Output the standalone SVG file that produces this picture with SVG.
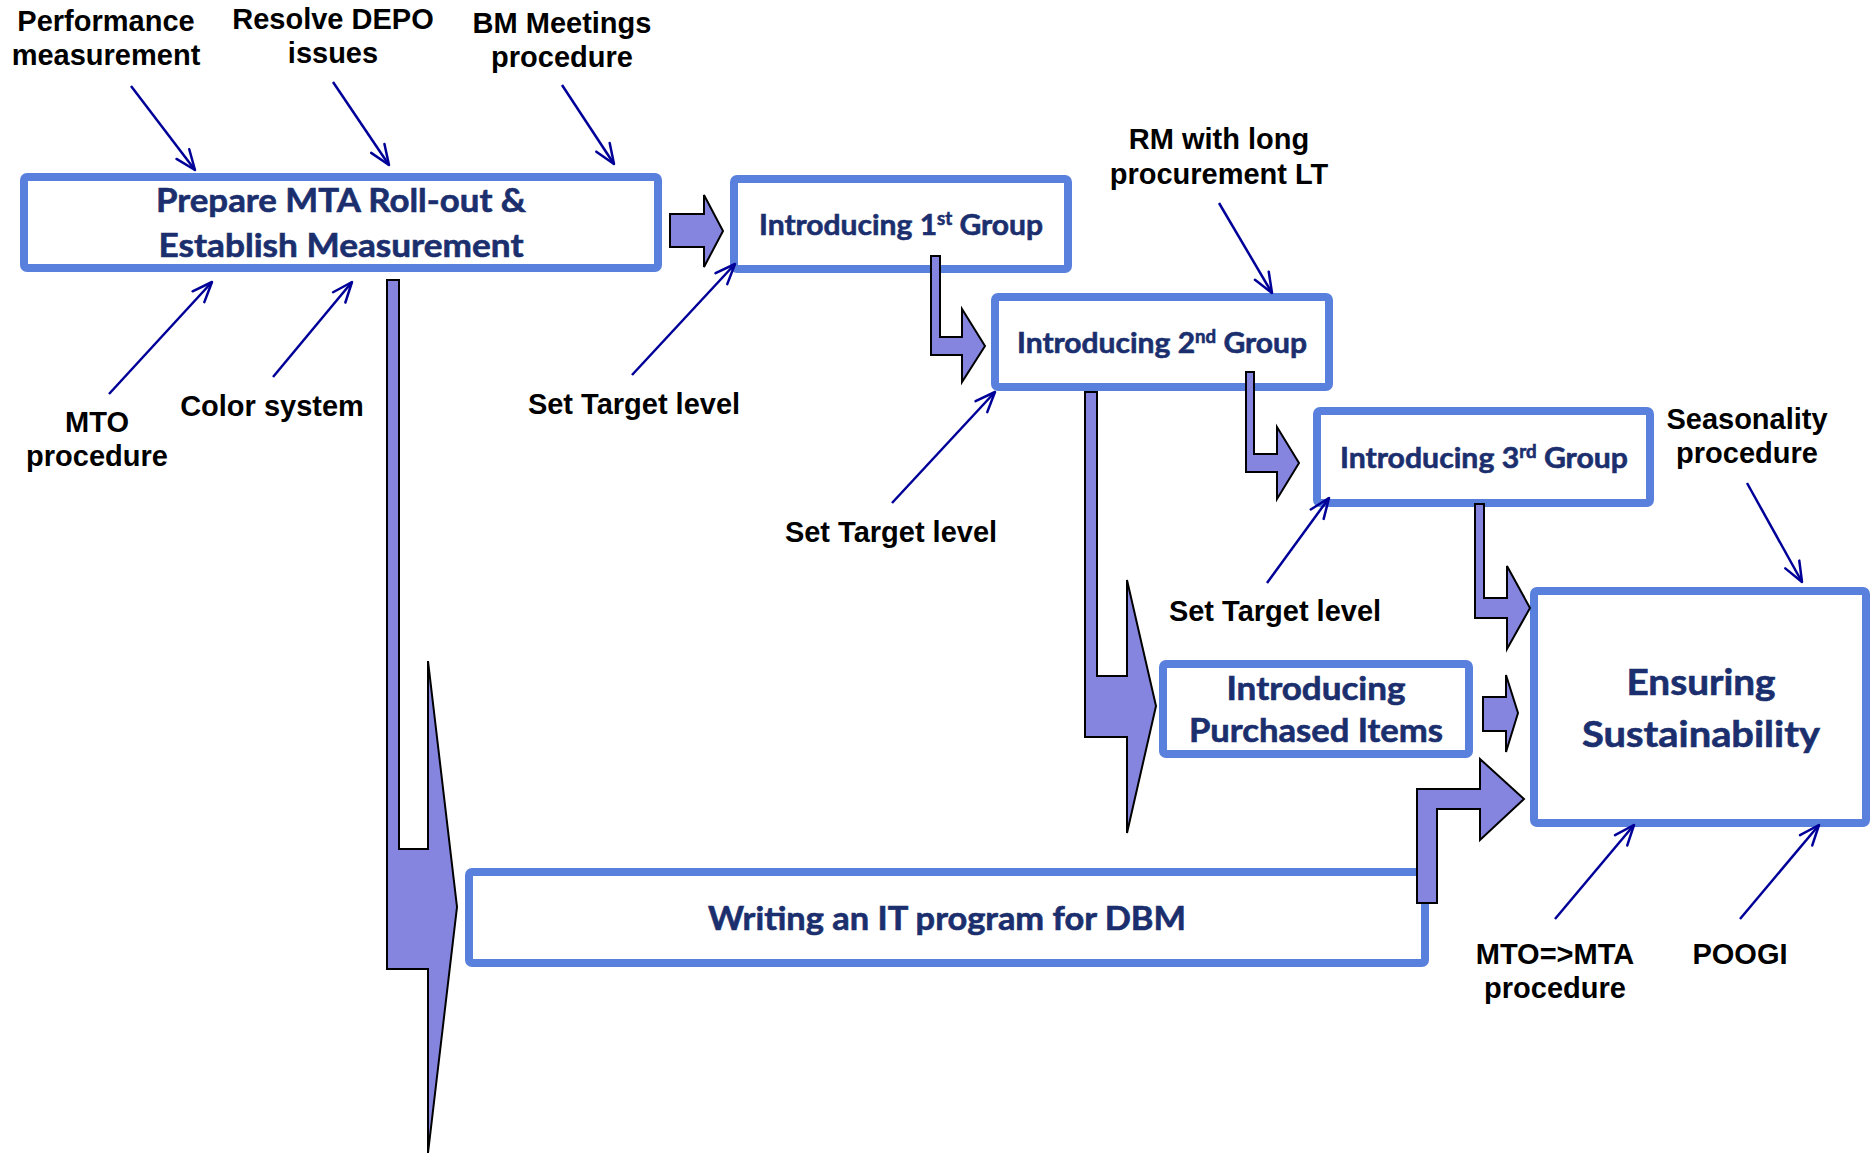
<svg xmlns="http://www.w3.org/2000/svg" width="1872" height="1154" viewBox="0 0 1872 1154">
  <defs>
    <style>
      .box { fill: #ffffff; stroke: #5880DC; stroke-width: 8; }
      .btxt { font-family: Lato, "Open Sans", "Liberation Sans", sans-serif; font-weight: 700; fill: #1B2F6E; stroke: #1B2F6E; stroke-width: 0.6; text-anchor: middle; }
      .lbl { font-family: "Liberation Sans", Arial, sans-serif; font-weight: 700; font-size: 29px; fill: #000000; text-anchor: middle; }
      .blk { fill: #8585DF; stroke: #000000; stroke-width: 2; stroke-linejoin: miter; }
      .thin { fill: none; stroke: #000099; stroke-width: 2.5; marker-end: url(#open); }
    </style>
    <marker id="open" markerUnits="userSpaceOnUse" viewBox="0 0 22 18" refX="21" refY="9" markerWidth="22" markerHeight="18" orient="auto" overflow="visible">
      <path d="M1,1 L21,9 L1,17" fill="none" stroke="#000099" stroke-width="2.5" stroke-linecap="round" stroke-linejoin="round"/>
    </marker>
  </defs>
  <rect x="0" y="0" width="1872" height="1154" fill="#ffffff"/>

  <g id="node-prepare">
    <rect class="box" x="24" y="177" width="634" height="91" rx="3"/>
    <text class="btxt" x="341" y="212" font-size="32" textLength="370" lengthAdjust="spacingAndGlyphs">Prepare MTA Roll-out &amp;</text>
    <text class="btxt" x="341" y="257" font-size="32" textLength="365" lengthAdjust="spacingAndGlyphs">Establish Measurement</text>
  </g>
  <g id="node-group1">
    <rect class="box" x="734" y="179" width="334" height="90" rx="3"/>
    <text class="btxt" x="901" y="235" font-size="29" textLength="284" lengthAdjust="spacingAndGlyphs">Introducing 1<tspan font-size="18" dy="-10">st</tspan><tspan dy="10"> Group</tspan></text>
  </g>
  <g id="node-group2">
    <rect class="box" x="995" y="297" width="334" height="90" rx="3"/>
    <text class="btxt" x="1162" y="353" font-size="29" textLength="290" lengthAdjust="spacingAndGlyphs">Introducing 2<tspan font-size="18" dy="-10">nd</tspan><tspan dy="10"> Group</tspan></text>
  </g>
  <g id="node-group3">
    <rect class="box" x="1317" y="411" width="333" height="92" rx="3"/>
    <text class="btxt" x="1484" y="468" font-size="29" textLength="288" lengthAdjust="spacingAndGlyphs">Introducing 3<tspan font-size="18" dy="-10">rd</tspan><tspan dy="10"> Group</tspan></text>
  </g>
  <g id="node-purchased">
    <rect class="box" x="1163" y="664" width="306" height="90" rx="3"/>
    <text class="btxt" x="1316" y="700" font-size="32" textLength="179" lengthAdjust="spacingAndGlyphs">Introducing</text>
    <text class="btxt" x="1316" y="742" font-size="32" textLength="254" lengthAdjust="spacingAndGlyphs">Purchased Items</text>
  </g>
  <g id="node-ensuring">
    <rect class="box" x="1534" y="591" width="332" height="232" rx="3"/>
    <text class="btxt" x="1701" y="695" font-size="36" textLength="149" lengthAdjust="spacingAndGlyphs">Ensuring</text>
    <text class="btxt" x="1701" y="747" font-size="36" textLength="238" lengthAdjust="spacingAndGlyphs">Sustainability</text>
  </g>
  <g id="node-it">
    <rect class="box" x="469" y="872" width="956" height="91" rx="3"/>
    <text class="btxt" x="947" y="930" font-size="32" textLength="478" lengthAdjust="spacingAndGlyphs">Writing an IT program for DBM</text>
  </g>

  <g id="label-performance"><text class="lbl" x="106" y="31">Performance</text><text class="lbl" x="106" y="65">measurement</text></g>
  <g id="label-depo"><text class="lbl" x="333" y="29">Resolve DEPO</text><text class="lbl" x="333" y="63">issues</text></g>
  <g id="label-bm"><text class="lbl" x="562" y="33">BM Meetings</text><text class="lbl" x="562" y="67">procedure</text></g>
  <g id="label-mto"><text class="lbl" x="97" y="432">MTO</text><text class="lbl" x="97" y="466">procedure</text></g>
  <g id="label-color"><text class="lbl" x="272" y="416">Color system</text></g>
  <g id="label-target1"><text class="lbl" x="634" y="414">Set Target level</text></g>
  <g id="label-target2"><text class="lbl" x="891" y="542">Set Target level</text></g>
  <g id="label-target3"><text class="lbl" x="1275" y="621">Set Target level</text></g>
  <g id="label-rm"><text class="lbl" x="1219" y="149">RM with long</text><text class="lbl" x="1219" y="184">procurement LT</text></g>
  <g id="label-season"><text class="lbl" x="1747" y="429">Seasonality</text><text class="lbl" x="1747" y="463">procedure</text></g>
  <g id="label-mtomta"><text class="lbl" x="1555" y="964">MTO=&gt;MTA</text><text class="lbl" x="1555" y="998">procedure</text></g>
  <g id="label-poogi"><text class="lbl" x="1740" y="964">POOGI</text></g>

  <g id="connectors">
    <polygon class="blk" points="670,214 704,214 704,195 723,231 704,267 704,247 670,247"/>
    <polygon class="blk" points="931,256 940,256 940,337 962,337 962,309 985,346 962,382 962,355 931,355"/>
    <polygon class="blk" points="1246,372 1254,372 1254,454 1277,454 1277,427 1299,463 1277,499 1277,472 1246,472"/>
    <polygon class="blk" points="1475,504 1484,504 1484,598 1507,598 1507,566 1530,608 1507,649 1507,618 1475,618"/>
    <polygon class="blk" points="1483,697 1506,697 1506,675 1518,713 1506,752 1506,731 1483,731"/>
    <polygon class="blk" points="1085,392 1097,392 1097,676 1127,676 1127,580 1156,706 1127,833 1127,737 1085,737"/>
    <polygon class="blk" points="387,280 399,280 399,849 428,849 428,661 457,907 428,1153 428,969 387,969"/>
    <polygon class="blk" points="1417,903 1417,789 1480,789 1480,759 1524,799 1480,840 1480,809 1437,809 1437,903"/>

    <line class="thin" x1="131" y1="86" x2="195" y2="170"/>
    <line class="thin" x1="333" y1="82" x2="389" y2="165"/>
    <line class="thin" x1="562" y1="85" x2="614" y2="164"/>
    <line class="thin" x1="109" y1="394" x2="212" y2="282"/>
    <line class="thin" x1="273" y1="377" x2="352" y2="282"/>
    <line class="thin" x1="632" y1="375" x2="735" y2="264"/>
    <line class="thin" x1="892" y1="503" x2="995" y2="392"/>
    <line class="thin" x1="1267" y1="583" x2="1329" y2="498"/>
    <line class="thin" x1="1219" y1="203" x2="1272" y2="293"/>
    <line class="thin" x1="1747" y1="483" x2="1802" y2="582"/>
    <line class="thin" x1="1555" y1="919" x2="1634" y2="825"/>
    <line class="thin" x1="1740" y1="919" x2="1819" y2="825"/>
  </g>
</svg>
